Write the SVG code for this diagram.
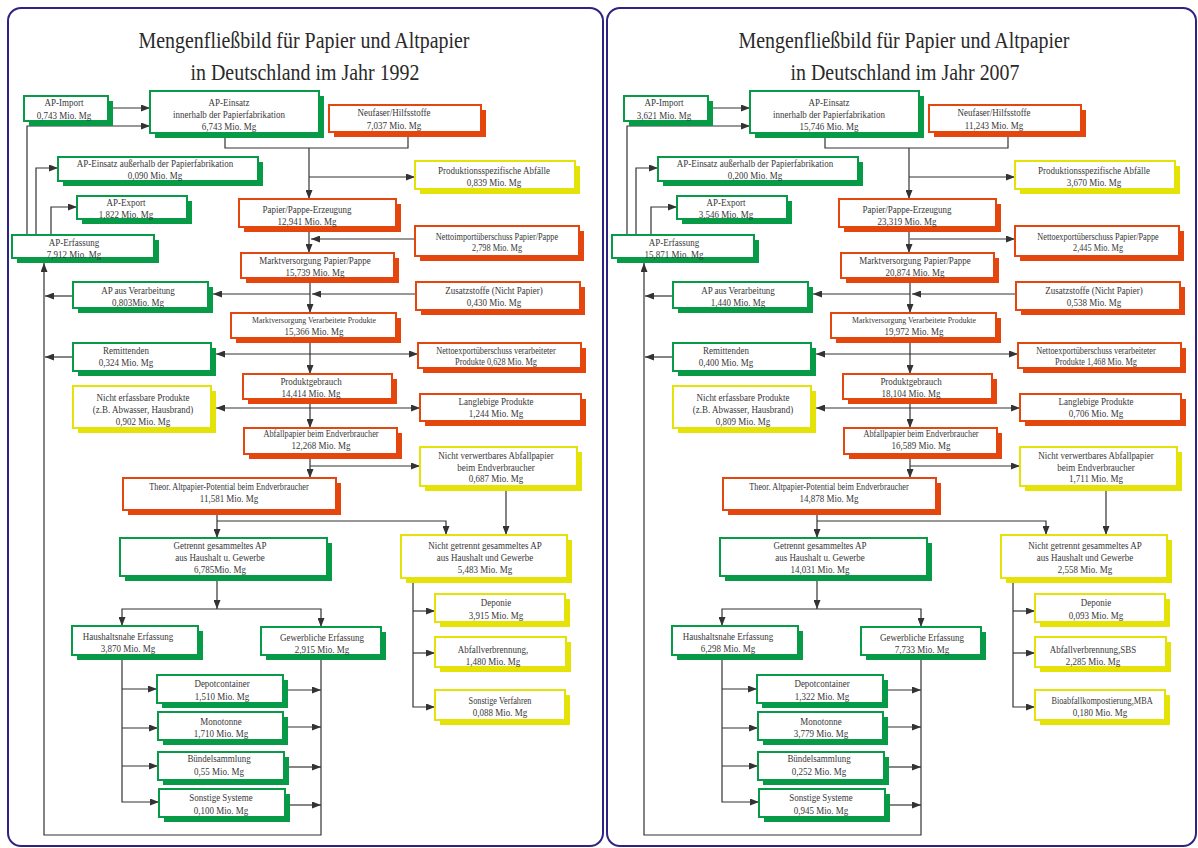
<svg xmlns="http://www.w3.org/2000/svg" width="1198" height="848" viewBox="0 0 1198 848">
<style>
text{font-family:"Liberation Serif","Times New Roman",serif;font-size:10.2px;fill:#383838;text-anchor:middle;transform-box:fill-box;transform-origin:center;transform:scaleX(0.88)}
.s{font-size:9.4px}
.xs{font-size:8.9px}
.title{font-size:22.5px;fill:#2a2a2a;transform:none}
.sg{fill:#079a47}.so{fill:#e4460d}.sy{fill:#e5e208}
.bg{fill:#fff;stroke:#079a47;stroke-width:2}
.bo{fill:#fff;stroke:#e4460d;stroke-width:2}
.by{fill:#fff;stroke:#e5e208;stroke-width:2}
.ln{fill:none;stroke:#333;stroke-width:1.2}
.frame{fill:none;stroke:#2e2384;stroke-width:2}
</style>
<defs>
<marker id="ah" markerUnits="userSpaceOnUse" markerWidth="9" markerHeight="7" refX="9" refY="3.5" orient="auto"><path d="M0,0L9,3.5L0,7z" fill="#333"/></marker>
</defs>
<rect class="frame" x="8" y="8" width="595" height="838" rx="13"/>
<rect class="frame" x="607" y="8" width="589" height="838" rx="13"/>

<g id="panel-1992">
<text class="title" x="304" y="48" textLength="331" lengthAdjust="spacingAndGlyphs">Mengenfließbild für Papier und Altpapier</text>
<text class="title" x="305" y="80" textLength="229" lengthAdjust="spacingAndGlyphs">in Deutschland im Jahr 1992</text>
<g id="connectors-1992" class="ln" marker-end="url(#ah)">
<path d="M108,108H150"/>
<path d="M27,235V126H150"/>
<path d="M36,235V168H58"/>
<path d="M51,235V207H77"/>
<path d="M225,133V148H408V132" marker-end="none"/>
<path d="M309,148V199"/>
<path d="M309,177H415"/>
<path d="M309,227V253"/>
<path d="M415,239H311"/>
<path d="M310,278V313"/>
<path d="M416,294H312"/>
<path d="M310,294H213"/>
<path d="M73,296H45"/>
<path d="M321,655V835H44V263"/>
<path d="M310,338V374"/>
<path d="M310,354H216"/>
<path d="M310,354H418"/>
<path d="M73,357H45"/>
<path d="M310,399V428"/>
<path d="M310,408H216"/>
<path d="M310,408H420"/>
<path d="M310,454V478"/>
<path d="M310,466H420"/>
<path d="M217,510V538"/>
<path d="M217,521H446V535"/>
<path d="M506,486V535"/>
<path d="M217,576V609"/>
<path d="M217,609H122V626"/>
<path d="M217,609H321V627"/>
<path d="M413,578V707H435"/>
<path d="M413,611H435"/>
<path d="M413,653H435"/>
<path d="M122,655V802H159"/>
<path d="M122,689H157"/>
<path d="M122,728H158"/>
<path d="M122,766H158"/>
<path d="M288,690H321"/>
<path d="M288,727H321"/>
<path d="M289,767H321"/>
<path d="M290,805H321"/>
</g>
<g id="l-ap-import"><rect class="sg" x="29" y="101" width="84" height="25"/><rect class="bg" x="24" y="96" width="84" height="25"/><text x="64" y="106">AP-Import</text><text x="64" y="119">0,743 Mio. Mg</text></g>
<g id="l-ap-einsatz-innen"><rect class="sg" x="155" y="96" width="169" height="42"/><rect class="bg" x="150" y="91" width="169" height="42"/><text x="229" y="106">AP-Einsatz</text><text x="229" y="118">innerhalb der Papierfabrikation</text><text x="229" y="130">6,743 Mio. Mg</text></g>
<g id="l-neufaser"><rect class="so" x="334" y="110" width="152" height="27"/><rect class="bo" x="329" y="105" width="152" height="27"/><text x="394" y="116">Neufaser/Hilfsstoffe</text><text x="394" y="129">7,037 Mio. Mg</text></g>
<g id="l-ap-einsatz-aussen"><rect class="sg" x="63" y="162" width="200" height="24"/><rect class="bg" x="58" y="157" width="200" height="24"/><text x="155" y="167">AP-Einsatz außerhalb der Papierfabrikation</text><text x="155" y="179">0,090 Mio. Mg</text></g>
<g id="l-prod-abfaelle"><rect class="sy" x="420" y="166" width="160" height="28"/><rect class="by" x="415" y="161" width="160" height="28"/><text x="494" y="174">Produktionsspezifische Abfälle</text><text x="494" y="186">0,839 Mio. Mg</text></g>
<g id="l-ap-export"><rect class="sg" x="82" y="201" width="110" height="23"/><rect class="bg" x="77" y="196" width="110" height="23"/><text x="126" y="206">AP-Export</text><text x="126" y="218">1,822 Mio. Mg</text></g>
<g id="l-ap-erfassung"><rect class="sg" x="17" y="240" width="142" height="23"/><rect class="bg" x="12" y="235" width="142" height="23"/><text x="74" y="246">AP-Erfassung</text><text x="74" y="258">7,912 Mio. Mg</text></g>
<g id="l-pp-erzeugung"><rect class="so" x="244" y="204" width="157" height="28"/><rect class="bo" x="239" y="199" width="157" height="28"/><text x="307" y="213">Papier/Pappe-Erzeugung</text><text x="307" y="225">12,941 Mio. Mg</text></g>
<g id="l-nettoimport"><rect class="so" x="420" y="231" width="164" height="30"/><rect class="bo" x="415" y="226" width="164" height="30"/><text class="s" x="497" y="240">Nettoimportüberschuss Papier/Pappe</text><text class="s" x="497" y="251">2,798 Mio. Mg</text></g>
<g id="l-marktvers-pp"><rect class="so" x="246" y="258" width="153" height="25"/><rect class="bo" x="241" y="253" width="153" height="25"/><text x="315" y="264">Marktversorgung Papier/Pappe</text><text x="315" y="276">15,739 Mio. Mg</text></g>
<g id="l-ap-verarbeitung"><rect class="sg" x="78" y="287" width="135" height="26"/><rect class="bg" x="73" y="282" width="135" height="26"/><text x="138" y="294">AP aus Verarbeitung</text><text x="138" y="306">0,803Mio. Mg</text></g>
<g id="l-zusatzstoffe"><rect class="so" x="421" y="287" width="164" height="28"/><rect class="bo" x="416" y="282" width="164" height="28"/><text x="494" y="294">Zusatzstoffe (Nicht Papier)</text><text x="494" y="306">0,430 Mio. Mg</text></g>
<g id="l-marktvers-vp"><rect class="so" x="236" y="318" width="165" height="25"/><rect class="bo" x="231" y="313" width="165" height="25"/><text class="xs" x="314" y="323">Marktversorgung Verarbeitete Produkte</text><text x="314" y="335">15,366 Mio. Mg</text></g>
<g id="l-remittenden"><rect class="sg" x="78" y="348" width="138" height="28"/><rect class="bg" x="73" y="343" width="138" height="28"/><text x="126" y="354">Remittenden</text><text x="126" y="366">0,324 Mio. Mg</text></g>
<g id="l-nettoexport-vp"><rect class="so" x="423" y="348" width="163" height="25"/><rect class="bo" x="418" y="343" width="163" height="25"/><text class="s" x="496" y="354">Nettoexportüberschuss verarbeiteter</text><text class="s" x="496" y="365">Produkte  0,628 Mio. Mg</text></g>
<g id="l-produktgebrauch"><rect class="so" x="248" y="379" width="149" height="25"/><rect class="bo" x="243" y="374" width="149" height="25"/><text x="311" y="385">Produktgebrauch</text><text x="311" y="397">14,414 Mio. Mg</text></g>
<g id="l-nicht-erfassbar"><rect class="sy" x="78" y="391" width="138" height="42"/><rect class="by" x="73" y="386" width="138" height="42"/><text x="143" y="401">Nicht erfassbare Produkte</text><text x="143" y="413">(z.B. Abwasser, Hausbrand)</text><text x="143" y="425">0,902 Mio. Mg</text></g>
<g id="l-langlebig"><rect class="so" x="425" y="399" width="161" height="27"/><rect class="bo" x="420" y="394" width="161" height="27"/><text x="496" y="405">Langlebige Produkte</text><text x="496" y="417">1,244 Mio. Mg</text></g>
<g id="l-abfallpapier"><rect class="so" x="249" y="433" width="153" height="26"/><rect class="bo" x="244" y="428" width="153" height="26"/><text class="s" x="321" y="437">Abfallpapier beim Endverbraucher</text><text x="321" y="449">12,268 Mio. Mg</text></g>
<g id="l-nicht-verwertbar"><rect class="sy" x="425" y="452" width="157" height="39"/><rect class="by" x="420" y="447" width="157" height="39"/><text x="496" y="459">Nicht verwertbares Abfallpapier</text><text x="496" y="471">beim Endverbraucher</text><text x="496" y="482">0,687 Mio. Mg</text></g>
<g id="l-theor"><rect class="so" x="128" y="483" width="213" height="32"/><rect class="bo" x="123" y="478" width="213" height="32"/><text class="s" x="229" y="490">Theor. Altpapier-Potential beim Endverbraucher</text><text x="229" y="502">11,581 Mio. Mg</text></g>
<g id="l-getrennt"><rect class="sg" x="125" y="543" width="207" height="38"/><rect class="bg" x="120" y="538" width="207" height="38"/><text x="220" y="549">Getrennt gesammeltes AP</text><text x="220" y="561">aus Haushalt u. Gewerbe</text><text x="220" y="573">6,785Mio. Mg</text></g>
<g id="l-nicht-getrennt"><rect class="sy" x="406" y="540" width="166" height="43"/><rect class="by" x="401" y="535" width="166" height="43"/><text x="485" y="549">Nicht getrennt gesammeltes AP</text><text x="485" y="561">aus Haushalt und Gewerbe</text><text x="485" y="573">5,483 Mio. Mg</text></g>
<g id="l-haushaltsnah"><rect class="sg" x="77" y="631" width="126" height="29"/><rect class="bg" x="72" y="626" width="126" height="29"/><text x="128" y="640">Haushaltsnahe Erfassung</text><text x="128" y="652">3,870 Mio. Mg</text></g>
<g id="l-gewerblich"><rect class="sg" x="266" y="632" width="120" height="28"/><rect class="bg" x="261" y="627" width="120" height="28"/><text x="322" y="641">Gewerbliche Erfassung</text><text x="322" y="653">2,915 Mio. Mg</text></g>
<g id="l-depot"><rect class="sg" x="162" y="680" width="126" height="28"/><rect class="bg" x="157" y="675" width="126" height="28"/><text x="222" y="687">Depotcontainer</text><text x="222" y="700">1,510 Mio. Mg</text></g>
<g id="l-monotonne"><rect class="sg" x="163" y="717" width="125" height="28"/><rect class="bg" x="158" y="712" width="125" height="28"/><text x="221" y="725">Monotonne</text><text x="221" y="737">1,710 Mio. Mg</text></g>
<g id="l-buendel"><rect class="sg" x="163" y="757" width="126" height="28"/><rect class="bg" x="158" y="752" width="126" height="28"/><text x="219" y="762">Bündelsammlung</text><text x="219" y="775">0,55 Mio. Mg</text></g>
<g id="l-sonstige-sys"><rect class="sg" x="164" y="794" width="126" height="28"/><rect class="bg" x="159" y="789" width="126" height="28"/><text x="221" y="801">Sonstige Systeme</text><text x="221" y="814">0,100  Mio. Mg</text></g>
<g id="l-deponie"><rect class="sy" x="440" y="599" width="130" height="28"/><rect class="by" x="435" y="594" width="130" height="28"/><text x="496" y="606">Deponie</text><text x="496" y="619">3,915 Mio. Mg</text></g>
<g id="l-verbrennung"><rect class="sy" x="440" y="642" width="131" height="30"/><rect class="by" x="435" y="637" width="131" height="30"/><text x="493" y="653">Abfallverbrennung,</text><text x="493" y="665">1,480  Mio. Mg</text></g>
<g id="l-sonstige-verf"><rect class="sy" x="440" y="695" width="130" height="30"/><rect class="by" x="435" y="690" width="130" height="30"/><text class="s" x="500" y="704">Sonstige Verfahren</text><text x="500" y="716">0,088 Mio. Mg</text></g>
</g>

<g id="panel-2007" transform="translate(600,0)">
<text class="title" x="304" y="48" textLength="331" lengthAdjust="spacingAndGlyphs">Mengenfließbild für Papier und Altpapier</text>
<text class="title" x="305" y="80" textLength="229" lengthAdjust="spacingAndGlyphs">in Deutschland im Jahr 2007</text>
<g id="connectors-2007" class="ln" marker-end="url(#ah)">
<path d="M108,108H150"/>
<path d="M27,235V126H150"/>
<path d="M36,235V168H58"/>
<path d="M51,235V207H77"/>
<path d="M225,133V148H408V132" marker-end="none"/>
<path d="M309,148V199"/>
<path d="M309,177H415"/>
<path d="M309,227V253"/>
<path d="M310,239H415"/>
<path d="M310,278V313"/>
<path d="M416,294H312"/>
<path d="M310,294H213"/>
<path d="M73,296H45"/>
<path d="M321,655V835H44V263"/>
<path d="M310,338V374"/>
<path d="M310,354H216"/>
<path d="M310,354H418"/>
<path d="M73,357H45"/>
<path d="M310,399V428"/>
<path d="M310,408H216"/>
<path d="M310,408H420"/>
<path d="M310,454V478"/>
<path d="M310,466H420"/>
<path d="M217,510V538"/>
<path d="M217,521H446V535"/>
<path d="M506,486V535"/>
<path d="M217,576V609"/>
<path d="M217,609H122V626"/>
<path d="M217,609H321V627"/>
<path d="M413,578V707H435"/>
<path d="M413,611H435"/>
<path d="M413,653H435"/>
<path d="M122,655V802H159"/>
<path d="M122,689H157"/>
<path d="M122,728H158"/>
<path d="M122,766H158"/>
<path d="M288,690H321"/>
<path d="M288,727H321"/>
<path d="M289,767H321"/>
<path d="M290,805H321"/>
</g>
<g id="r-ap-import"><rect class="sg" x="29" y="101" width="84" height="25"/><rect class="bg" x="24" y="96" width="84" height="25"/><text x="64" y="106">AP-Import</text><text x="64" y="119">3,621 Mio. Mg</text></g>
<g id="r-ap-einsatz-innen"><rect class="sg" x="155" y="96" width="169" height="42"/><rect class="bg" x="150" y="91" width="169" height="42"/><text x="229" y="106">AP-Einsatz</text><text x="229" y="118">innerhalb der Papierfabrikation</text><text x="229" y="130">15,746 Mio. Mg</text></g>
<g id="r-neufaser"><rect class="so" x="334" y="110" width="152" height="27"/><rect class="bo" x="329" y="105" width="152" height="27"/><text x="394" y="116">Neufaser/Hilfsstoffe</text><text x="394" y="129">11,243 Mio. Mg</text></g>
<g id="r-ap-einsatz-aussen"><rect class="sg" x="63" y="162" width="200" height="24"/><rect class="bg" x="58" y="157" width="200" height="24"/><text x="155" y="167">AP-Einsatz außerhalb der Papierfabrikation</text><text x="155" y="179">0,200 Mio. Mg</text></g>
<g id="r-prod-abfaelle"><rect class="sy" x="420" y="166" width="160" height="28"/><rect class="by" x="415" y="161" width="160" height="28"/><text x="494" y="174">Produktionsspezifische Abfälle</text><text x="494" y="186">3,670 Mio. Mg</text></g>
<g id="r-ap-export"><rect class="sg" x="82" y="201" width="110" height="23"/><rect class="bg" x="77" y="196" width="110" height="23"/><text x="126" y="206">AP-Export</text><text x="126" y="218">3,546 Mio. Mg</text></g>
<g id="r-ap-erfassung"><rect class="sg" x="17" y="240" width="142" height="23"/><rect class="bg" x="12" y="235" width="142" height="23"/><text x="74" y="246">AP-Erfassung</text><text x="74" y="258">15,871 Mio. Mg</text></g>
<g id="r-pp-erzeugung"><rect class="so" x="244" y="204" width="157" height="28"/><rect class="bo" x="239" y="199" width="157" height="28"/><text x="307" y="213">Papier/Pappe-Erzeugung</text><text x="307" y="225">23,319 Mio. Mg</text></g>
<g id="r-nettoexport-pp"><rect class="so" x="420" y="231" width="164" height="30"/><rect class="bo" x="415" y="226" width="164" height="30"/><text class="s" x="498" y="240">Nettoexportüberschuss Papier/Pappe</text><text class="s" x="498" y="251">2,445 Mio. Mg</text></g>
<g id="r-marktvers-pp"><rect class="so" x="246" y="258" width="153" height="25"/><rect class="bo" x="241" y="253" width="153" height="25"/><text x="315" y="264">Marktversorgung Papier/Pappe</text><text x="315" y="276">20,874 Mio. Mg</text></g>
<g id="r-ap-verarbeitung"><rect class="sg" x="78" y="287" width="135" height="26"/><rect class="bg" x="73" y="282" width="135" height="26"/><text x="138" y="294">AP aus Verarbeitung</text><text x="138" y="306">1,440 Mio. Mg</text></g>
<g id="r-zusatzstoffe"><rect class="so" x="421" y="287" width="164" height="28"/><rect class="bo" x="416" y="282" width="164" height="28"/><text x="494" y="294">Zusatzstoffe (Nicht Papier)</text><text x="494" y="306">0,538 Mio. Mg</text></g>
<g id="r-marktvers-vp"><rect class="so" x="236" y="318" width="165" height="25"/><rect class="bo" x="231" y="313" width="165" height="25"/><text class="xs" x="314" y="323">Marktversorgung Verarbeitete Produkte</text><text x="314" y="335">19,972 Mio. Mg</text></g>
<g id="r-remittenden"><rect class="sg" x="78" y="348" width="138" height="28"/><rect class="bg" x="73" y="343" width="138" height="28"/><text x="126" y="354">Remittenden</text><text x="126" y="366">0,400 Mio. Mg</text></g>
<g id="r-nettoexport-vp"><rect class="so" x="423" y="348" width="163" height="25"/><rect class="bo" x="418" y="343" width="163" height="25"/><text class="s" x="496" y="354">Nettoexportüberschuss verarbeiteter</text><text class="s" x="496" y="365">Produkte  1,468 Mio. Mg</text></g>
<g id="r-produktgebrauch"><rect class="so" x="248" y="379" width="149" height="25"/><rect class="bo" x="243" y="374" width="149" height="25"/><text x="311" y="385">Produktgebrauch</text><text x="311" y="397">18,104 Mio. Mg</text></g>
<g id="r-nicht-erfassbar"><rect class="sy" x="78" y="391" width="138" height="42"/><rect class="by" x="73" y="386" width="138" height="42"/><text x="143" y="401">Nicht erfassbare Produkte</text><text x="143" y="413">(z.B. Abwasser, Hausbrand)</text><text x="143" y="425">0,809 Mio. Mg</text></g>
<g id="r-langlebig"><rect class="so" x="425" y="399" width="161" height="27"/><rect class="bo" x="420" y="394" width="161" height="27"/><text x="496" y="405">Langlebige Produkte</text><text x="496" y="417">0,706 Mio. Mg</text></g>
<g id="r-abfallpapier"><rect class="so" x="249" y="433" width="153" height="26"/><rect class="bo" x="244" y="428" width="153" height="26"/><text class="s" x="321" y="437">Abfallpapier beim Endverbraucher</text><text x="321" y="449">16,589 Mio. Mg</text></g>
<g id="r-nicht-verwertbar"><rect class="sy" x="425" y="452" width="157" height="39"/><rect class="by" x="420" y="447" width="157" height="39"/><text x="496" y="459">Nicht verwertbares Abfallpapier</text><text x="496" y="471">beim Endverbraucher</text><text x="496" y="482">1,711 Mio. Mg</text></g>
<g id="r-theor"><rect class="so" x="128" y="483" width="213" height="32"/><rect class="bo" x="123" y="478" width="213" height="32"/><text class="s" x="229" y="490">Theor. Altpapier-Potential beim Endverbraucher</text><text x="229" y="502">14,878 Mio. Mg</text></g>
<g id="r-getrennt"><rect class="sg" x="125" y="543" width="207" height="38"/><rect class="bg" x="120" y="538" width="207" height="38"/><text x="220" y="549">Getrennt gesammeltes AP</text><text x="220" y="561">aus Haushalt u. Gewerbe</text><text x="220" y="573">14,031 Mio. Mg</text></g>
<g id="r-nicht-getrennt"><rect class="sy" x="406" y="540" width="166" height="43"/><rect class="by" x="401" y="535" width="166" height="43"/><text x="485" y="549">Nicht getrennt gesammeltes AP</text><text x="485" y="561">aus Haushalt und Gewerbe</text><text x="485" y="573">2,558 Mio. Mg</text></g>
<g id="r-haushaltsnah"><rect class="sg" x="77" y="631" width="126" height="29"/><rect class="bg" x="72" y="626" width="126" height="29"/><text x="128" y="640">Haushaltsnahe Erfassung</text><text x="128" y="652">6,298 Mio. Mg</text></g>
<g id="r-gewerblich"><rect class="sg" x="266" y="632" width="120" height="28"/><rect class="bg" x="261" y="627" width="120" height="28"/><text x="322" y="641">Gewerbliche Erfassung</text><text x="322" y="653">7,733 Mio. Mg</text></g>
<g id="r-depot"><rect class="sg" x="162" y="680" width="126" height="28"/><rect class="bg" x="157" y="675" width="126" height="28"/><text x="222" y="687">Depotcontainer</text><text x="222" y="700">1,322 Mio. Mg</text></g>
<g id="r-monotonne"><rect class="sg" x="163" y="717" width="125" height="28"/><rect class="bg" x="158" y="712" width="125" height="28"/><text x="221" y="725">Monotonne</text><text x="221" y="737">3,779 Mio. Mg</text></g>
<g id="r-buendel"><rect class="sg" x="163" y="757" width="126" height="28"/><rect class="bg" x="158" y="752" width="126" height="28"/><text x="219" y="762">Bündelsammlung</text><text x="219" y="775">0,252 Mio. Mg</text></g>
<g id="r-sonstige-sys"><rect class="sg" x="164" y="794" width="126" height="28"/><rect class="bg" x="159" y="789" width="126" height="28"/><text x="221" y="801">Sonstige Systeme</text><text x="221" y="814">0,945  Mio. Mg</text></g>
<g id="r-deponie"><rect class="sy" x="440" y="599" width="130" height="28"/><rect class="by" x="435" y="594" width="130" height="28"/><text x="496" y="606">Deponie</text><text x="496" y="619">0,093 Mio. Mg</text></g>
<g id="r-verbrennung"><rect class="sy" x="440" y="642" width="131" height="30"/><rect class="by" x="435" y="637" width="131" height="30"/><text x="493" y="653">Abfallverbrennung,SBS</text><text x="493" y="665">2,285  Mio. Mg</text></g>
<g id="r-kompost"><rect class="sy" x="440" y="695" width="130" height="30"/><rect class="by" x="435" y="690" width="130" height="30"/><text class="s" x="502" y="704">Bioabfallkompostierung,MBA</text><text x="500" y="716">0,180 Mio. Mg</text></g>
</g>
</svg>
